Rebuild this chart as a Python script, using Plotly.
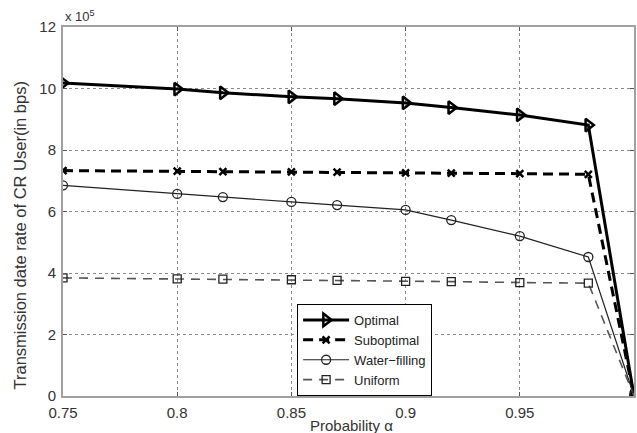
import plotly.graph_objects as go

prob = [0.75, 0.80, 0.82, 0.85, 0.87, 0.90, 0.92, 0.95, 0.98, 1.00]
optimal = [10.18, 9.98, 9.86, 9.73, 9.67, 9.53, 9.38, 9.14, 8.81, 0.0]
suboptimal = [7.33, 7.31, 7.30, 7.29, 7.28, 7.26, 7.25, 7.23, 7.21, 0.0]
water_filling = [6.85, 6.57, 6.47, 6.31, 6.21, 6.05, 5.72, 5.20, 4.52, 0.0]
uniform = [3.84, 3.81, 3.80, 3.78, 3.76, 3.73, 3.72, 3.69, 3.67, 0.0]

x_ticks = [0.75, 0.8, 0.85, 0.9, 0.95, 1.0]
x_tick_labels = ["0.75", "0.8", "0.85", "0.9", "0.95", "1"]
y_ticks = [0, 2, 4, 6, 8, 10, 12]

FONT = "Liberation Sans, Arial, sans-serif"

fig = go.Figure()
fig.add_trace(go.Scatter(
    x=prob, y=optimal, name="Optimal", mode="lines+markers",
    line=dict(color="black", width=3),
    marker=dict(symbol="triangle-right-open", size=11, color="black", line=dict(width=2.5, color="black")),
))
fig.add_trace(go.Scatter(
    x=prob, y=suboptimal, name="Suboptimal", mode="lines+markers",
    line=dict(color="black", width=3, dash="10px,6px"),
    marker=dict(symbol="x-thin-open", size=7, color="black", line=dict(width=2.5, color="black")),
))
fig.add_trace(go.Scatter(
    x=prob, y=water_filling, name="Water\u2212filling", mode="lines+markers",
    line=dict(color="#222", width=1.2),
    marker=dict(symbol="circle-open", size=9, color="#222", line=dict(width=1.3, color="#222")),
))
fig.add_trace(go.Scatter(
    x=prob, y=uniform, name="Uniform", mode="lines+markers",
    line=dict(color="#555", width=1.6, dash="9px,7px"),
    marker=dict(symbol="square-open", size=8, color="#222", line=dict(width=1.3, color="#222")),
))

axis_common = dict(
    showgrid=True, gridcolor="#8a8a8a", griddash="dot", gridwidth=1,
    showline=True, linecolor="#a0a0a0", linewidth=2, mirror="ticks",
    ticks="inside", ticklen=4, tickcolor="#555",
    zeroline=False, automargin=False,
    tickfont=dict(family=FONT, size=15, color="#333"),
)

fig.update_layout(
    width=637, height=433,
    margin=dict(l=63, r=3, t=27, b=37),
    paper_bgcolor="white", plot_bgcolor="white",
    font=dict(family=FONT, color="#222"),
    xaxis=dict(range=[0.75, 1.0], tickvals=x_ticks, ticktext=x_tick_labels,
               ticklabelstandoff=2, **axis_common),
    yaxis=dict(range=[0, 12], tickvals=y_ticks, ticklabelstandoff=2, **axis_common),
    legend=dict(x=0.41, y=0.0, xanchor="left", yanchor="bottom",
                bgcolor="white", bordercolor="black", borderwidth=1,
                font=dict(family=FONT, size=13, color="#222"),
                tracegroupgap=0, itemwidth=46),
    showlegend=True,
)

fig.add_annotation(
    text="x 10<sup>5</sup>", xref="paper", yref="paper", x=0.0, y=1.0,
    xanchor="left", yanchor="bottom", showarrow=False,
    font=dict(family=FONT, size=13, color="#333"), yshift=1,
)
fig.add_annotation(
    text="Probability \u03b1", xref="paper", yref="paper", x=0.505, y=0.0,
    xanchor="center", yanchor="top", showarrow=False,
    font=dict(family=FONT, size=15, color="#333"), yshift=-19,
)
fig.add_annotation(
    text="Transmission date rate of CR User(in bps)", xref="paper", yref="paper",
    x=0.0, y=0.435, xanchor="center", yanchor="middle", textangle=-90,
    showarrow=False, xshift=-43,
    font=dict(family=FONT, size=16.5, color="#333"),
)

fig.write_html("out.html", post_script="document.body.style.margin='0px';",
               config={"displayModeBar": False})
